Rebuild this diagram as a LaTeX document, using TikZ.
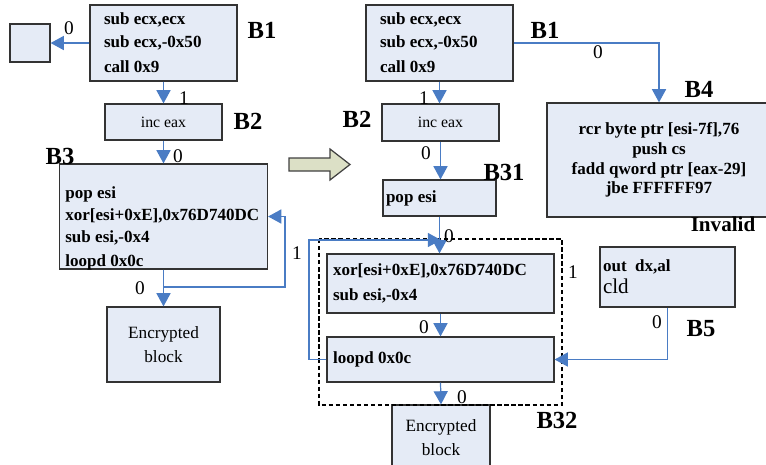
\documentclass[tikz,border=0pt]{standalone}
\usepackage{fontspec}
\setmainfont{Liberation Serif}
\usetikzlibrary{arrows.meta}

\definecolor{boxfill}{HTML}{E5EBF6}
\definecolor{flowblue}{HTML}{4A7CC4}
\definecolor{bigarrow}{HTML}{DCE0C6}

\tikzset{
blk/.style={draw=black!80, fill=boxfill, line width=0.7pt, inner sep=0pt},
code/.style={font=\fontsize{9.7}{12.6}\selectfont\bfseries, align=flush left, inner sep=0pt},
plain/.style={font=\fontsize{9.8}{13.6}\selectfont, align=center, inner sep=0pt},
flow/.style={draw=flowblue, line width=0.7pt, -{Triangle[length=7.5pt,width=8pt]}},
lbl/.style={font=\fontsize{11}{11}\selectfont, inner sep=0pt},
tag/.style={font=\fontsize{14}{14}\selectfont\bfseries, inner sep=0pt},
}

\begin{document}
\begin{tikzpicture}[x=0.02cm, y=-0.02cm]

\clip (0,0) rectangle (766,464);

% before
\node [blk, minimum width=0.8cm, minimum height=0.76cm] (sq) at (30,43) {};
\node [blk, code, minimum height=1.52cm, text width=2.38cm, inner xsep=0.28cm] (B1L) at (163.5,43)
{sub ecx,ecx\\ sub ecx,-0x50\\[2pt] call 0x9};
\node [blk, plain, font=\fontsize{9}{11}\selectfont, minimum width=2.34cm, minimum height=0.72cm] (B2L) at (163.5,122) {inc eax};
\node [blk, minimum width=4.16cm, minimum height=2.1cm] (B3L) at (163.5,216.5) {};
\node [code, anchor=west] (B3Lcode) at (65,228.5)
{pop esi\\ xor[esi+0xE],0x76D740DC\\ sub esi,-0x4\\[1pt] loopd 0x0c};
\node [blk, plain, minimum width=2.26cm, minimum height=1.5cm] (EncL) at (163.5,344.5) {Encrypted\\ block};

\coordinate (lpL) at (285,287);

\draw [flow] (B1L.west) -- (sq.east);
\draw [flow] (B1L.south) -- (B2L.north);
\draw [flow] (B2L.south) -- (B3L.north);
\draw [flow] (B3L.south) |- (lpL) |- (B3L.east);
\draw [flow] (B3L.south) -- (EncL.north);

\node [lbl] (l1) at (69,28) {0};
\node [lbl] (l2) at (184,98) {1};
\node [lbl] (l3) at (178,156) {0};
\node [lbl] (l4) at (140,288) {0};
\node [lbl] (l5) at (297,253) {1};

\node [tag] (t1) at (262,30) {B1};
\node [tag] (t2) at (248,121) {B2};
\node [tag] (t3) at (60,156) {B3};

% big arrow
\draw [fill=bigarrow, draw=black!75, line width=0.7pt]
(289,158)--(330,158)--(330,149)--(350,164.5)--(330,180)--(330,171)--(289,171)--cycle;

% after
\node [blk, code, minimum height=1.52cm, text width=2.38cm, inner xsep=0.28cm] (B1R) at (439.5,43)
{sub ecx,ecx\\ sub ecx,-0x50\\[2pt] call 0x9};
\node [blk, plain, font=\fontsize{9}{11}\selectfont, minimum width=2.34cm, minimum height=0.74cm] (B2R) at (440.5,122.5) {inc eax};
\node [blk, code, minimum height=0.72cm, text width=2.14cm, inner xsep=0.06cm] (B31) at (439.5,198) {pop esi};
\node [blk, code, font=\fontsize{9.7}{14.2}\selectfont\bfseries, minimum height=1.18cm, text width=4.3cm, inner xsep=0.12cm] (xorB) at (440.5,283.5)
{xor[esi+0xE],0x76D740DC\\ sub esi,-0x4};
\node [blk, code, minimum height=0.9cm, text width=4.3cm, inner xsep=0.12cm] (loopB) at (440.5,359.5) {loopd 0x0c};
\node [blk, plain, minimum width=1.96cm, minimum height=1.3cm] (EncR) at (441,437.5) {Encrypted\\ block};
\node [blk, code, font=\fontsize{9.7}{11.3}\selectfont\bfseries, align=center, minimum width=4.48cm, minimum height=2.28cm] (B4) at (659,160)
{rcr byte ptr [esi-7f],76\\ push cs\\ fadd qword ptr [eax-29]\\ jbe FFFFFF97};
\node [blk, code, minimum height=1.2cm, text width=2.58cm, inner xsep=0.06cm] (B5) at (667.5,277)
{out\ \ dx,al\\ {\mdseries\fontsize{12}{12}\selectfont cld}};

\draw [black, line width=0.6pt, dash pattern=on 2.5pt off 1.5pt] (319,239) rectangle (562,405);

\coordinate (mrg) at (441,240);
\coordinate (lpR) at (309,240);

\draw [flow] (B1R.south) -- (B1R.south |- B2R.north);
\draw [flow] (B1R.east) -| (B4.north);
\draw [flow] (B2R.south) -- (B2R.south |- B31.north);
\draw [flow] (B31.south) -- (B31.south |- xorB.north);
\draw [flow] (loopB.west) -| (lpR) -- (mrg);
\draw [flow] (xorB.south) -- (loopB.north);
\draw [flow] (loopB.south) -- (EncR.north);
\draw [flow] (B5.south) |- (loopB.east);

\node [lbl] (r1) at (424,98) {1};
\node [lbl] (r2) at (426,153) {0};
\node [lbl] (r3) at (449,236) {0};
\node [lbl] (r4) at (424,327) {0};
\node [lbl] (r5) at (462,397) {0};
\node [lbl] (r6) at (573,272) {1};
\node [lbl] (r7) at (598,52) {0};
\node [lbl] (r8) at (657,322) {0};

\node [tag] (t4) at (545,30) {B1};
\node [tag] (t5) at (357,119) {B2};
\node [tag] (t6) at (504,172) {B31};
\node [tag] (t7) at (699,89) {B4};
\node [tag, font=\fontsize{12}{12}\selectfont\bfseries] (t8) at (723,224) {Invalid};
\node [tag] (t9) at (557,420) {B32};
\node [tag] (t10) at (701,329) {B5};

\end{tikzpicture}
\end{document}
